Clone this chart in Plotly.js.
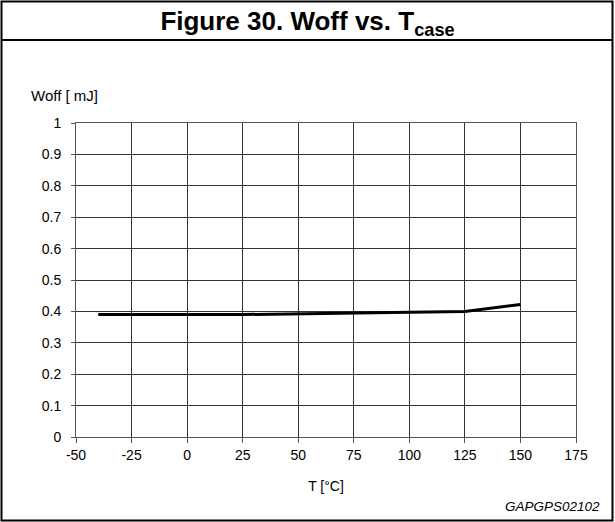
<!DOCTYPE html>
<html>
<head>
<meta charset="utf-8">
<script src="https://cdn.plot.ly/plotly-3.0.1.min.js"></script>
<style>
  html, body { margin: 0; padding: 0; background: #fff; }
  #chart { width: 615px; height: 522px; }
</style>
</head>
<body>
<div id="chart"></div>
<script>
// Data
const temperature = [-40, 25, 100, 125, 150];
const woff = [0.39, 0.39, 0.397, 0.40, 0.422];
const xTicks = [-50, -25, 0, 25, 50, 75, 100, 125, 150, 175];
const yTicks = [0, 0.1, 0.2, 0.3, 0.4, 0.5, 0.6, 0.7, 0.8, 0.9, 1];

const FONT = 'Liberation Sans, Arial, sans-serif';
const W = 615, H = 522;
const M = { l: 76, r: 39, t: 123, b: 85 };
const PW = W - M.l - M.r, PH = H - M.t - M.b;
const px2x = p => (p - M.l) / PW;
const px2y = p => (H - M.b - p) / PH;

const trace = {
  x: temperature,
  y: woff,
  type: 'scatter',
  mode: 'lines',
  line: { color: '#000', width: 3 },
  hoverinfo: 'skip'
};

const layout = {
  width: W,
  height: H,
  margin: M,
  paper_bgcolor: '#fff',
  plot_bgcolor: '#fff',
  showlegend: false,
  font: { family: FONT, size: 14, color: '#000' },
  title: {
    text: '<b>Figure 30. Woff vs. T<sub>case</sub></b>',
    font: { family: FONT, size: 26, color: '#000' },
    xref: 'container', x: 0.5, xanchor: 'center',
    yref: 'container', y: 1 - 21 / H, yanchor: 'middle'
  },
  xaxis: {
    range: [-50, 175],
    tickvals: xTicks,
    ticktext: xTicks.map(String),
    ticks: 'outside', ticklen: 5, tickcolor: '#555', tickwidth: 1,
    showgrid: true, gridcolor: '#333', gridwidth: 1,
    showline: true, linecolor: '#555', linewidth: 1, mirror: true,
    zeroline: false,
    tickfont: { family: FONT, size: 14, color: '#000' },
    title: { text: 'T [°C]', font: { family: FONT, size: 14, color: '#000' }, standoff: 19 },
    automargin: false, fixedrange: true
  },
  yaxis: {
    range: [0, 1],
    tickvals: yTicks,
    ticktext: yTicks.map(String),
    ticks: 'outside', ticklen: 4, tickcolor: '#555', tickwidth: 1,
    ticklabelstandoff: 7,
    showgrid: true, gridcolor: '#333', gridwidth: 1,
    showline: true, linecolor: '#555', linewidth: 1, mirror: true,
    zeroline: false,
    tickfont: { family: FONT, size: 14, color: '#000' },
    automargin: false, fixedrange: true
  },
  annotations: [
    {
      text: 'Woff [ mJ]',
      xref: 'paper', yref: 'paper',
      x: px2x(29), y: px2y(95),
      xanchor: 'left', yanchor: 'middle',
      showarrow: false,
      font: { family: FONT, size: 15, color: '#000' }
    },
    {
      text: '<i>GAPGPS02102</i>',
      xref: 'paper', yref: 'paper',
      x: px2x(602), y: px2y(506),
      xanchor: 'right', yanchor: 'middle',
      showarrow: false,
      font: { family: FONT, size: 13.5, color: '#000' }
    }
  ],
  shapes: [
    {
      type: 'rect', xref: 'paper', yref: 'paper',
      x0: px2x(1.5), x1: px2x(612.5), y0: px2y(520.5), y1: px2y(1.5),
      line: { color: '#000', width: 2 }, fillcolor: 'rgba(0,0,0,0)', layer: 'above'
    },
    {
      type: 'line', xref: 'paper', yref: 'paper',
      x0: px2x(1.5), x1: px2x(612.5), y0: px2y(40), y1: px2y(40),
      line: { color: '#000', width: 2 }, layer: 'above'
    }
  ]
};

Plotly.newPlot('chart', [trace], layout, { staticPlot: true, displayModeBar: false });
</script>
</body>
</html>
